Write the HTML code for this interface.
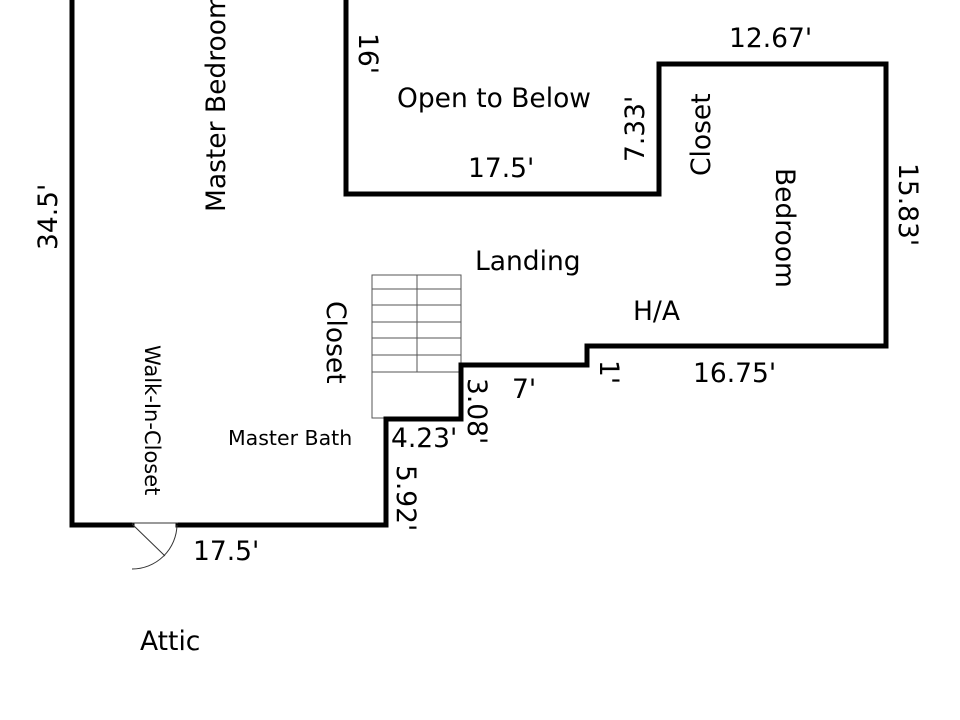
<!DOCTYPE html>
<html>
<head>
<meta charset="utf-8">
<style>
  html, body { margin: 0; padding: 0; background: #fff; }
  body { width: 960px; height: 720px; overflow: hidden; }
  svg { display: block; }
  text { font-family: "DejaVu Sans", "Liberation Sans", sans-serif; fill: #000; }
</style>
</head>
<body>
<svg width="960" height="720" viewBox="0 0 960 720" xmlns="http://www.w3.org/2000/svg">
  <rect x="0" y="0" width="960" height="720" fill="#fff"/>

  <!-- Stairs -->
  <g stroke="#555" stroke-width="1" fill="none">
    <rect x="372" y="275" width="89" height="143"/>
    <line x1="417" y1="275" x2="417" y2="372"/>
    <line x1="372" y1="289" x2="461" y2="289"/>
    <line x1="372" y1="305" x2="461" y2="305"/>
    <line x1="372" y1="322" x2="461" y2="322"/>
    <line x1="372" y1="338" x2="461" y2="338"/>
    <line x1="372" y1="355" x2="461" y2="355"/>
    <line x1="372" y1="372" x2="461" y2="372"/>
  </g>

  <!-- Walls -->
  <g stroke="#000" stroke-width="5" fill="none" stroke-linejoin="miter" stroke-linecap="square">
    <polyline points="72,-5 72,525 132,525"/>
    <polyline points="178,525 386,525 386,419 461,419 461,365 587,365 587,346 886,346 886,64 659,64 659,194 346,194 346,-5"/>
  </g>

  <!-- Door -->
  <g stroke="#333" stroke-width="1" fill="none">
    <line x1="132" y1="523" x2="178" y2="523"/>
    <line x1="132" y1="524" x2="165" y2="556"/>
    <path d="M177,525 A45,45 0 0 1 132,569"/>
  </g>

  <!-- Room labels -->
  <text x="0" y="0" font-size="26.5" transform="translate(225,212) rotate(-90)">Master Bedroom</text>
  <text x="397" y="107" font-size="26.5">Open to Below</text>
  <text x="475" y="270" font-size="26.5">Landing</text>
  <text x="633" y="320" font-size="26.5">H/A</text>
  <text x="0" y="0" font-size="26.5" transform="translate(710,176) rotate(-90)">Closet</text>
  <text x="0" y="0" font-size="26.5" transform="translate(776,168) rotate(90)">Bedroom</text>
  <text x="0" y="0" font-size="26.5" transform="translate(327,301) rotate(90)">Closet</text>
  <text x="0" y="0" font-size="21" transform="translate(145,345) rotate(90)">Walk-In-Closet</text>
  <text x="228" y="445" font-size="20.5">Master Bath</text>
  <text x="140" y="650" font-size="26.5">Attic</text>

  <!-- Dimensions -->
  <text x="0" y="0" font-size="26.5" transform="translate(57,250) rotate(-90)">34.5'</text>
  <text x="0" y="0" font-size="26.5" transform="translate(359,33) rotate(90)">16'</text>
  <text x="468" y="177" font-size="26.5">17.5'</text>
  <text x="0" y="0" font-size="26.5" transform="translate(644,162) rotate(-90)">7.33'</text>
  <text x="729" y="47" font-size="26.5">12.67'</text>
  <text x="0" y="0" font-size="26.5" transform="translate(899,163) rotate(90)">15.83'</text>
  <text x="693" y="382" font-size="26.5">16.75'</text>
  <text x="0" y="0" font-size="26.5" transform="translate(600,360) rotate(90)">1'</text>
  <text x="512" y="398" font-size="26.5">7'</text>
  <text x="0" y="0" font-size="26.5" transform="translate(468,378) rotate(90)">3.08'</text>
  <text x="391" y="447" font-size="26.5">4.23'</text>
  <text x="0" y="0" font-size="26.5" transform="translate(397,465) rotate(90)">5.92'</text>
  <text x="193" y="560" font-size="26.5">17.5'</text>
</svg>
</body>
</html>
